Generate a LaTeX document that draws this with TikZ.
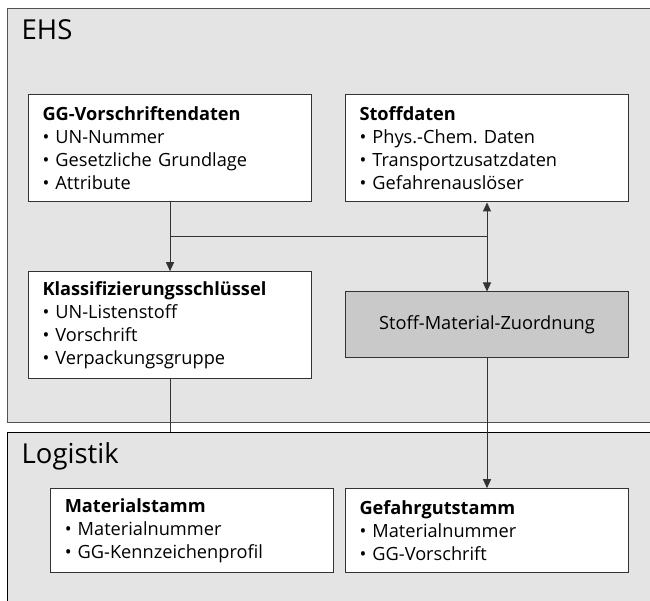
\documentclass[tikz,border=0pt]{standalone}
\usepackage{fontspec}
\setmainfont{Open Sans}
\usetikzlibrary{arrows.meta,positioning}
\frenchspacing

\definecolor{bereichgrau}{HTML}{E4E4E4}
\definecolor{zuordgrau}{HTML}{C9C9C9}
\definecolor{rand}{HTML}{333333}

\tikzset{
	bereich/.style={draw=rand!85, fill=bereichgrau, line width=1pt, anchor=north west, inner sep=0pt},
	datenbox/.style={draw=rand, fill=white, line width=1pt, text width=255pt, inner xsep=14pt, inner ysep=0pt, align=left, font=\fontsize{18.2}{23}\selectfont},
	titel/.style={font=\fontsize{27.5}{32}\selectfont, anchor=base west, inner sep=0pt},
	linie/.style={draw=rand, line width=1pt},
	pfeil/.style={linie, -{Triangle[length=9pt,width=8pt]}},
}

\begin{document}
\begin{tikzpicture}[x=1pt, y=-1pt]
					% Bereiche EHS und Logistik
					\clip (0,0) rectangle (650,601);
					\node[bereich, minimum width=663pt, minimum height=413.5pt] (ehs) at (7,8) {};
					\node[bereich, draw=black, minimum width=664pt, minimum height=190pt] (logistik) at (6.5,432) {};
					\node[titel] (ehstitel) at (21.5,40) {EHS};
					\node[titel] (logtitel) at (21.5,463) {Logistik};
					
					% Datenobjekte
					\node[datenbox, minimum height=107pt] (gg) at (170,148.5) {\textbf{GG-Vorschriftendaten}\\
						\textbullet~UN-Nummer\\
						\textbullet~Gesetzliche Grundlage\\
						\textbullet~Attribute};
					\node[datenbox, minimum height=107pt, right=33pt of gg] (stoff) {\textbf{Stoffdaten}\\
						\textbullet~Phys.-Chem. Daten\\
						\textbullet~Transportzusatzdaten\\
						\textbullet~Gefahrenauslöser};
					\node[datenbox, minimum height=107pt, below=68.7pt of gg] (klass) {\textbf{Klassifizierungsschlüssel}\\
						\textbullet~UN-Listenstoff\\
						\textbullet~Vorschrift\\
						\textbullet~Verpackungsgruppe};
					\node[datenbox, fill=zuordgrau, align=center, minimum height=65pt, below=89pt of stoff] (zuord) {Stoff-Material-Zuordnung};
					\node[datenbox, minimum height=84pt, below=130.7pt of zuord] (gefahr) {\textbf{Gefahrgutstamm}\\
						\textbullet~Materialnummer\\
						\textbullet~GG-Vorschrift};
					\node[datenbox, minimum height=84pt, left=10.7pt of gefahr] (mat) {\textbf{Materialstamm}\\
						\textbullet~Materialnummer\\
						\textbullet~GG-Kennzeichenprofil};
					
					% Verbindungen
					\draw[pfeil] (gg) -- (klass) coordinate[pos=0.5] (knick);
					\draw[linie] (knick) -- (knick -| stoff.south);
					\draw[pfeil, {Triangle[length=9pt,width=8pt]}-{Triangle[length=9pt,width=8pt]}] (stoff) -- (zuord);
					\draw[linie] (klass) -- (klass.south |- logistik.north);
					\draw[pfeil] (zuord) -- (gefahr);
				\end{tikzpicture}
\end{document}
